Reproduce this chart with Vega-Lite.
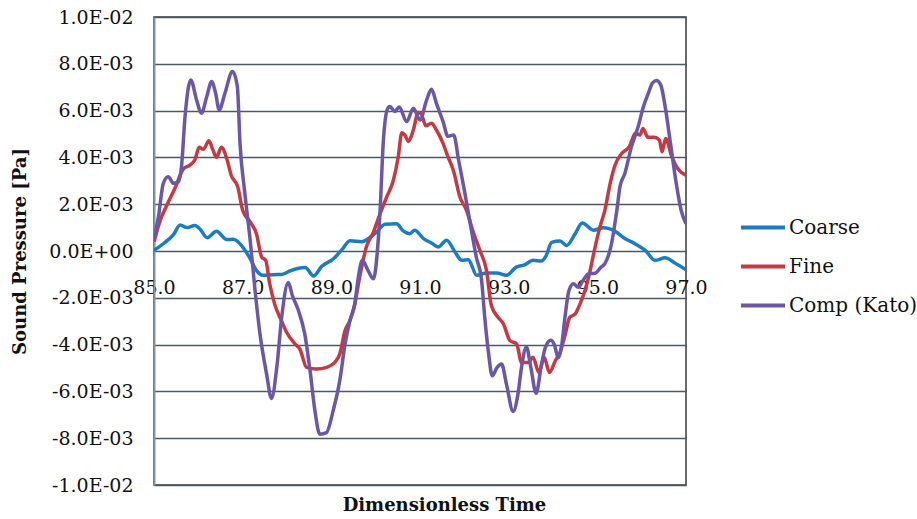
{
  "$schema": "https://vega.github.io/schema/vega-lite/v6.json",
  "width": 532,
  "height": 468,
  "autosize": {"type": "none"},
  "padding": {"left": 154, "top": 17, "right": 231, "bottom": 34},
  "background": "white",
  "config": {
    "font": "DejaVu Serif",
    "view": {"stroke": "#3a3a3a", "strokeWidth": 1.5}
  },
  "data": {
    "values": [
      {"t": 85.00, "s": "Coarse", "p": 0.00003},
      {"t": 85.21, "s": "Coarse", "p": 0.00031},
      {"t": 85.44, "s": "Coarse", "p": 0.00070},
      {"t": 85.59, "s": "Coarse", "p": 0.00111},
      {"t": 85.74, "s": "Coarse", "p": 0.00100},
      {"t": 85.92, "s": "Coarse", "p": 0.00109},
      {"t": 86.04, "s": "Coarse", "p": 0.00093},
      {"t": 86.20, "s": "Coarse", "p": 0.00057},
      {"t": 86.41, "s": "Coarse", "p": 0.00084},
      {"t": 86.64, "s": "Coarse", "p": 0.00049},
      {"t": 86.79, "s": "Coarse", "p": 0.00050},
      {"t": 86.97, "s": "Coarse", "p": 0.00024},
      {"t": 87.17, "s": "Coarse", "p": -0.00033},
      {"t": 87.31, "s": "Coarse", "p": -0.00083},
      {"t": 87.46, "s": "Coarse", "p": -0.00104},
      {"t": 87.69, "s": "Coarse", "p": -0.00101},
      {"t": 87.88, "s": "Coarse", "p": -0.00100},
      {"t": 88.07, "s": "Coarse", "p": -0.00085},
      {"t": 88.22, "s": "Coarse", "p": -0.00076},
      {"t": 88.41, "s": "Coarse", "p": -0.00071},
      {"t": 88.60, "s": "Coarse", "p": -0.00107},
      {"t": 88.78, "s": "Coarse", "p": -0.00066},
      {"t": 89.05, "s": "Coarse", "p": -0.00033},
      {"t": 89.24, "s": "Coarse", "p": 0.00006},
      {"t": 89.42, "s": "Coarse", "p": 0.00044},
      {"t": 89.69, "s": "Coarse", "p": 0.00040},
      {"t": 89.84, "s": "Coarse", "p": 0.00053},
      {"t": 90.02, "s": "Coarse", "p": 0.00081},
      {"t": 90.21, "s": "Coarse", "p": 0.00114},
      {"t": 90.47, "s": "Coarse", "p": 0.00116},
      {"t": 90.62, "s": "Coarse", "p": 0.00086},
      {"t": 90.77, "s": "Coarse", "p": 0.00074},
      {"t": 90.88, "s": "Coarse", "p": 0.00089},
      {"t": 91.08, "s": "Coarse", "p": 0.00053},
      {"t": 91.26, "s": "Coarse", "p": 0.00034},
      {"t": 91.41, "s": "Coarse", "p": 0.00017},
      {"t": 91.60, "s": "Coarse", "p": 0.00046},
      {"t": 91.79, "s": "Coarse", "p": -0.00004},
      {"t": 91.94, "s": "Coarse", "p": -0.00040},
      {"t": 92.09, "s": "Coarse", "p": -0.00037},
      {"t": 92.28, "s": "Coarse", "p": -0.00104},
      {"t": 92.50, "s": "Coarse", "p": -0.00094},
      {"t": 92.73, "s": "Coarse", "p": -0.00094},
      {"t": 92.95, "s": "Coarse", "p": -0.00104},
      {"t": 93.17, "s": "Coarse", "p": -0.00069},
      {"t": 93.36, "s": "Coarse", "p": -0.00059},
      {"t": 93.55, "s": "Coarse", "p": -0.00040},
      {"t": 93.74, "s": "Coarse", "p": -0.00043},
      {"t": 93.84, "s": "Coarse", "p": -0.00022},
      {"t": 93.97, "s": "Coarse", "p": 0.00037},
      {"t": 94.16, "s": "Coarse", "p": 0.00043},
      {"t": 94.31, "s": "Coarse", "p": 0.00024},
      {"t": 94.50, "s": "Coarse", "p": 0.00074},
      {"t": 94.66, "s": "Coarse", "p": 0.00120},
      {"t": 94.91, "s": "Coarse", "p": 0.00089},
      {"t": 95.14, "s": "Coarse", "p": 0.00099},
      {"t": 95.40, "s": "Coarse", "p": 0.00084},
      {"t": 95.62, "s": "Coarse", "p": 0.00053},
      {"t": 95.85, "s": "Coarse", "p": 0.00031},
      {"t": 96.08, "s": "Coarse", "p": 0.00003},
      {"t": 96.30, "s": "Coarse", "p": -0.00040},
      {"t": 96.53, "s": "Coarse", "p": -0.00029},
      {"t": 96.75, "s": "Coarse", "p": -0.00051},
      {"t": 97.00, "s": "Coarse", "p": -0.00080},

      {"t": 85.00, "s": "Fine", "p": 0.00039},
      {"t": 85.14, "s": "Fine", "p": 0.00131},
      {"t": 85.29, "s": "Fine", "p": 0.00196},
      {"t": 85.47, "s": "Fine", "p": 0.00267},
      {"t": 85.66, "s": "Fine", "p": 0.00350},
      {"t": 85.81, "s": "Fine", "p": 0.00367},
      {"t": 85.92, "s": "Fine", "p": 0.00389},
      {"t": 86.02, "s": "Fine", "p": 0.00443},
      {"t": 86.11, "s": "Fine", "p": 0.00434},
      {"t": 86.24, "s": "Fine", "p": 0.00471},
      {"t": 86.33, "s": "Fine", "p": 0.00431},
      {"t": 86.41, "s": "Fine", "p": 0.00400},
      {"t": 86.52, "s": "Fine", "p": 0.00443},
      {"t": 86.65, "s": "Fine", "p": 0.00389},
      {"t": 86.74, "s": "Fine", "p": 0.00324},
      {"t": 86.89, "s": "Fine", "p": 0.00274},
      {"t": 87.00, "s": "Fine", "p": 0.00174},
      {"t": 87.17, "s": "Fine", "p": 0.00124},
      {"t": 87.31, "s": "Fine", "p": 0.00074},
      {"t": 87.43, "s": "Fine", "p": -0.00026},
      {"t": 87.52, "s": "Fine", "p": -0.00040},
      {"t": 87.61, "s": "Fine", "p": -0.00140},
      {"t": 87.72, "s": "Fine", "p": -0.00226},
      {"t": 87.88, "s": "Fine", "p": -0.00300},
      {"t": 87.99, "s": "Fine", "p": -0.00347},
      {"t": 88.18, "s": "Fine", "p": -0.00397},
      {"t": 88.29, "s": "Fine", "p": -0.00419},
      {"t": 88.44, "s": "Fine", "p": -0.00497},
      {"t": 88.67, "s": "Fine", "p": -0.00504},
      {"t": 88.89, "s": "Fine", "p": -0.00497},
      {"t": 89.08, "s": "Fine", "p": -0.00476},
      {"t": 89.19, "s": "Fine", "p": -0.00440},
      {"t": 89.31, "s": "Fine", "p": -0.00340},
      {"t": 89.42, "s": "Fine", "p": -0.00297},
      {"t": 89.53, "s": "Fine", "p": -0.00226},
      {"t": 89.64, "s": "Fine", "p": -0.00111},
      {"t": 89.79, "s": "Fine", "p": 0.00017},
      {"t": 89.95, "s": "Fine", "p": 0.00081},
      {"t": 90.10, "s": "Fine", "p": 0.00160},
      {"t": 90.25, "s": "Fine", "p": 0.00231},
      {"t": 90.40, "s": "Fine", "p": 0.00303},
      {"t": 90.51, "s": "Fine", "p": 0.00403},
      {"t": 90.59, "s": "Fine", "p": 0.00505},
      {"t": 90.66, "s": "Fine", "p": 0.00495},
      {"t": 90.74, "s": "Fine", "p": 0.00468},
      {"t": 90.85, "s": "Fine", "p": 0.00517},
      {"t": 90.96, "s": "Fine", "p": 0.00592},
      {"t": 91.03, "s": "Fine", "p": 0.00585},
      {"t": 91.13, "s": "Fine", "p": 0.00535},
      {"t": 91.26, "s": "Fine", "p": 0.00546},
      {"t": 91.37, "s": "Fine", "p": 0.00517},
      {"t": 91.52, "s": "Fine", "p": 0.00460},
      {"t": 91.63, "s": "Fine", "p": 0.00403},
      {"t": 91.75, "s": "Fine", "p": 0.00346},
      {"t": 91.90, "s": "Fine", "p": 0.00231},
      {"t": 92.05, "s": "Fine", "p": 0.00174},
      {"t": 92.20, "s": "Fine", "p": 0.00081},
      {"t": 92.35, "s": "Fine", "p": 0.00003},
      {"t": 92.50, "s": "Fine", "p": -0.00083},
      {"t": 92.61, "s": "Fine", "p": -0.00233},
      {"t": 92.76, "s": "Fine", "p": -0.00283},
      {"t": 92.88, "s": "Fine", "p": -0.00311},
      {"t": 93.03, "s": "Fine", "p": -0.00383},
      {"t": 93.18, "s": "Fine", "p": -0.00397},
      {"t": 93.29, "s": "Fine", "p": -0.00476},
      {"t": 93.44, "s": "Fine", "p": -0.00476},
      {"t": 93.55, "s": "Fine", "p": -0.00454},
      {"t": 93.68, "s": "Fine", "p": -0.00519},
      {"t": 93.80, "s": "Fine", "p": -0.00454},
      {"t": 93.92, "s": "Fine", "p": -0.00519},
      {"t": 94.05, "s": "Fine", "p": -0.00470},
      {"t": 94.16, "s": "Fine", "p": -0.00433},
      {"t": 94.27, "s": "Fine", "p": -0.00361},
      {"t": 94.38, "s": "Fine", "p": -0.00283},
      {"t": 94.50, "s": "Fine", "p": -0.00269},
      {"t": 94.61, "s": "Fine", "p": -0.00226},
      {"t": 94.72, "s": "Fine", "p": -0.00169},
      {"t": 94.83, "s": "Fine", "p": -0.00090},
      {"t": 94.95, "s": "Fine", "p": 0.00017},
      {"t": 95.06, "s": "Fine", "p": 0.00103},
      {"t": 95.17, "s": "Fine", "p": 0.00174},
      {"t": 95.29, "s": "Fine", "p": 0.00289},
      {"t": 95.40, "s": "Fine", "p": 0.00367},
      {"t": 95.55, "s": "Fine", "p": 0.00417},
      {"t": 95.72, "s": "Fine", "p": 0.00446},
      {"t": 95.86, "s": "Fine", "p": 0.00503},
      {"t": 95.96, "s": "Fine", "p": 0.00496},
      {"t": 96.03, "s": "Fine", "p": 0.00524},
      {"t": 96.14, "s": "Fine", "p": 0.00486},
      {"t": 96.28, "s": "Fine", "p": 0.00486},
      {"t": 96.40, "s": "Fine", "p": 0.00474},
      {"t": 96.46, "s": "Fine", "p": 0.00424},
      {"t": 96.54, "s": "Fine", "p": 0.00481},
      {"t": 96.68, "s": "Fine", "p": 0.00403},
      {"t": 96.81, "s": "Fine", "p": 0.00353},
      {"t": 97.00, "s": "Fine", "p": 0.00324},

      {"t": 85.00, "s": "Comp (Kato)", "p": 0.00053},
      {"t": 85.10, "s": "Comp (Kato)", "p": 0.00146},
      {"t": 85.21, "s": "Comp (Kato)", "p": 0.00289},
      {"t": 85.32, "s": "Comp (Kato)", "p": 0.00317},
      {"t": 85.44, "s": "Comp (Kato)", "p": 0.00289},
      {"t": 85.55, "s": "Comp (Kato)", "p": 0.00296},
      {"t": 85.62, "s": "Comp (Kato)", "p": 0.00360},
      {"t": 85.70, "s": "Comp (Kato)", "p": 0.00574},
      {"t": 85.83, "s": "Comp (Kato)", "p": 0.00731},
      {"t": 85.96, "s": "Comp (Kato)", "p": 0.00646},
      {"t": 86.07, "s": "Comp (Kato)", "p": 0.00589},
      {"t": 86.19, "s": "Comp (Kato)", "p": 0.00660},
      {"t": 86.30, "s": "Comp (Kato)", "p": 0.00724},
      {"t": 86.39, "s": "Comp (Kato)", "p": 0.00674},
      {"t": 86.47, "s": "Comp (Kato)", "p": 0.00603},
      {"t": 86.60, "s": "Comp (Kato)", "p": 0.00674},
      {"t": 86.77, "s": "Comp (Kato)", "p": 0.00767},
      {"t": 86.88, "s": "Comp (Kato)", "p": 0.00703},
      {"t": 86.94, "s": "Comp (Kato)", "p": 0.00460},
      {"t": 87.05, "s": "Comp (Kato)", "p": 0.00246},
      {"t": 87.17, "s": "Comp (Kato)", "p": 0.00046},
      {"t": 87.28, "s": "Comp (Kato)", "p": -0.00169},
      {"t": 87.39, "s": "Comp (Kato)", "p": -0.00354},
      {"t": 87.54, "s": "Comp (Kato)", "p": -0.00526},
      {"t": 87.65, "s": "Comp (Kato)", "p": -0.00630},
      {"t": 87.77, "s": "Comp (Kato)", "p": -0.00497},
      {"t": 87.88, "s": "Comp (Kato)", "p": -0.00283},
      {"t": 88.03, "s": "Comp (Kato)", "p": -0.00135},
      {"t": 88.12, "s": "Comp (Kato)", "p": -0.00190},
      {"t": 88.25, "s": "Comp (Kato)", "p": -0.00250},
      {"t": 88.40, "s": "Comp (Kato)", "p": -0.00354},
      {"t": 88.52, "s": "Comp (Kato)", "p": -0.00511},
      {"t": 88.63, "s": "Comp (Kato)", "p": -0.00683},
      {"t": 88.74, "s": "Comp (Kato)", "p": -0.00783},
      {"t": 88.89, "s": "Comp (Kato)", "p": -0.00776},
      {"t": 89.04, "s": "Comp (Kato)", "p": -0.00683},
      {"t": 89.19, "s": "Comp (Kato)", "p": -0.00554},
      {"t": 89.31, "s": "Comp (Kato)", "p": -0.00397},
      {"t": 89.42, "s": "Comp (Kato)", "p": -0.00297},
      {"t": 89.53, "s": "Comp (Kato)", "p": -0.00226},
      {"t": 89.61, "s": "Comp (Kato)", "p": -0.00111},
      {"t": 89.70, "s": "Comp (Kato)", "p": -0.00040},
      {"t": 89.81, "s": "Comp (Kato)", "p": -0.00076},
      {"t": 89.95, "s": "Comp (Kato)", "p": -0.00119},
      {"t": 90.04, "s": "Comp (Kato)", "p": 0.00003},
      {"t": 90.10, "s": "Comp (Kato)", "p": 0.00174},
      {"t": 90.17, "s": "Comp (Kato)", "p": 0.00460},
      {"t": 90.26, "s": "Comp (Kato)", "p": 0.00603},
      {"t": 90.32, "s": "Comp (Kato)", "p": 0.00617},
      {"t": 90.43, "s": "Comp (Kato)", "p": 0.00596},
      {"t": 90.53, "s": "Comp (Kato)", "p": 0.00615},
      {"t": 90.70, "s": "Comp (Kato)", "p": 0.00553},
      {"t": 90.85, "s": "Comp (Kato)", "p": 0.00610},
      {"t": 91.00, "s": "Comp (Kato)", "p": 0.00560},
      {"t": 91.15, "s": "Comp (Kato)", "p": 0.00646},
      {"t": 91.26, "s": "Comp (Kato)", "p": 0.00691},
      {"t": 91.37, "s": "Comp (Kato)", "p": 0.00631},
      {"t": 91.52, "s": "Comp (Kato)", "p": 0.00553},
      {"t": 91.63, "s": "Comp (Kato)", "p": 0.00490},
      {"t": 91.76, "s": "Comp (Kato)", "p": 0.00496},
      {"t": 91.87, "s": "Comp (Kato)", "p": 0.00389},
      {"t": 92.00, "s": "Comp (Kato)", "p": 0.00260},
      {"t": 92.12, "s": "Comp (Kato)", "p": 0.00131},
      {"t": 92.27, "s": "Comp (Kato)", "p": -0.00026},
      {"t": 92.39, "s": "Comp (Kato)", "p": -0.00126},
      {"t": 92.46, "s": "Comp (Kato)", "p": -0.00283},
      {"t": 92.54, "s": "Comp (Kato)", "p": -0.00426},
      {"t": 92.63, "s": "Comp (Kato)", "p": -0.00533},
      {"t": 92.74, "s": "Comp (Kato)", "p": -0.00497},
      {"t": 92.84, "s": "Comp (Kato)", "p": -0.00483},
      {"t": 92.95, "s": "Comp (Kato)", "p": -0.00569},
      {"t": 93.10, "s": "Comp (Kato)", "p": -0.00685},
      {"t": 93.21, "s": "Comp (Kato)", "p": -0.00611},
      {"t": 93.29, "s": "Comp (Kato)", "p": -0.00497},
      {"t": 93.40, "s": "Comp (Kato)", "p": -0.00410},
      {"t": 93.50, "s": "Comp (Kato)", "p": -0.00497},
      {"t": 93.62, "s": "Comp (Kato)", "p": -0.00608},
      {"t": 93.73, "s": "Comp (Kato)", "p": -0.00497},
      {"t": 93.83, "s": "Comp (Kato)", "p": -0.00411},
      {"t": 93.95, "s": "Comp (Kato)", "p": -0.00381},
      {"t": 94.03, "s": "Comp (Kato)", "p": -0.00400},
      {"t": 94.12, "s": "Comp (Kato)", "p": -0.00456},
      {"t": 94.20, "s": "Comp (Kato)", "p": -0.00397},
      {"t": 94.27, "s": "Comp (Kato)", "p": -0.00283},
      {"t": 94.36, "s": "Comp (Kato)", "p": -0.00169},
      {"t": 94.46, "s": "Comp (Kato)", "p": -0.00140},
      {"t": 94.57, "s": "Comp (Kato)", "p": -0.00155},
      {"t": 94.68, "s": "Comp (Kato)", "p": -0.00125},
      {"t": 94.80, "s": "Comp (Kato)", "p": -0.00097},
      {"t": 94.95, "s": "Comp (Kato)", "p": -0.00095},
      {"t": 95.08, "s": "Comp (Kato)", "p": -0.00070},
      {"t": 95.17, "s": "Comp (Kato)", "p": -0.00054},
      {"t": 95.32, "s": "Comp (Kato)", "p": 0.00031},
      {"t": 95.44, "s": "Comp (Kato)", "p": 0.00174},
      {"t": 95.51, "s": "Comp (Kato)", "p": 0.00274},
      {"t": 95.62, "s": "Comp (Kato)", "p": 0.00331},
      {"t": 95.77, "s": "Comp (Kato)", "p": 0.00446},
      {"t": 95.92, "s": "Comp (Kato)", "p": 0.00531},
      {"t": 96.04, "s": "Comp (Kato)", "p": 0.00617},
      {"t": 96.15, "s": "Comp (Kato)", "p": 0.00674},
      {"t": 96.24, "s": "Comp (Kato)", "p": 0.00717},
      {"t": 96.33, "s": "Comp (Kato)", "p": 0.00729},
      {"t": 96.43, "s": "Comp (Kato)", "p": 0.00710},
      {"t": 96.53, "s": "Comp (Kato)", "p": 0.00617},
      {"t": 96.65, "s": "Comp (Kato)", "p": 0.00460},
      {"t": 96.78, "s": "Comp (Kato)", "p": 0.00289},
      {"t": 96.89, "s": "Comp (Kato)", "p": 0.00174},
      {"t": 97.00, "s": "Comp (Kato)", "p": 0.00117}
    ]
  },
  "mark": {"type": "line", "strokeWidth": 3.5, "interpolate": "monotone", "clip": true},
  "encoding": {
    "x": {
      "field": "t",
      "type": "quantitative",
      "scale": {"domain": [85, 97], "nice": false, "zero": false},
      "axis": {
        "values": [85, 87, 89, 91, 93, 95, 97],
        "format": ".1f",
        "offset": -234,
        "grid": false,
        "ticks": false,
        "domain": false,
        "labelFont": "DejaVu Serif",
        "labelFontSize": 19,
        "labelColor": "#111111",
        "labelBaseline": "top",
        "labelPadding": 27,
        "labelFlush": false,
        "labelOverlap": false,
        "title": "Dimensionless Time",
        "titleFont": "DejaVu Serif",
        "titleFontSize": 18,
        "titleFontWeight": "bold",
        "titleColor": "#111111",
        "titleX": 290,
        "titleY": 245,
        "titleAlign": "center",
        "titleBaseline": "top"
      }
    },
    "y": {
      "field": "p",
      "type": "quantitative",
      "scale": {"domain": [-0.01, 0.01], "nice": false},
      "axis": {
        "values": [-0.01, -0.008, -0.006, -0.004, -0.002, 0, 0.002, 0.004, 0.006, 0.008, 0.01],
        "labelExpr": "datum.value == 0 ? '0.0E+00' : (datum.value < 0 ? '-' : '') + format(abs(datum.value) / pow(10, floor(log(abs(datum.value)) / LN10 + 1e-9)), '.1f') + 'E-0' + (-floor(log(abs(datum.value)) / LN10 + 1e-9))",
        "grid": true,
        "gridColor": "#4d5963",
        "gridWidth": 1.3,
        "ticks": false,
        "domain": true,
        "domainColor": "#8496a3",
        "domainWidth": 2,
        "labelFont": "DejaVu Serif",
        "labelFontSize": 19,
        "labelColor": "#111111",
        "labelPadding": 21,
        "labelFlush": false,
        "labelOverlap": false,
        "title": "Sound Pressure [Pa]",
        "titleFont": "DejaVu Serif",
        "titleFontSize": 18,
        "titleFontWeight": "bold",
        "titleColor": "#111111",
        "titleAngle": -90,
        "titleX": -134,
        "titleY": 234,
        "titleAlign": "center",
        "titleBaseline": "middle"
      }
    },
    "color": {
      "field": "s",
      "type": "nominal",
      "sort": ["Coarse", "Fine", "Comp (Kato)"],
      "scale": {
        "domain": ["Coarse", "Fine", "Comp (Kato)"],
        "range": ["#1b7dc0", "#c43a42", "#6a58a6"]
      },
      "legend": {
        "title": null,
        "orient": "none",
        "legendX": 585,
        "legendY": 191,
        "padding": 0,
        "symbolType": "stroke",
        "symbolSize": 1936,
        "symbolStrokeWidth": 4,
        "clipHeight": 39,
        "rowPadding": 0,
        "labelOffset": 2,
        "labelFont": "DejaVu Serif",
        "labelFontSize": 20,
        "labelColor": "#111111"
      }
    }
  }
}
